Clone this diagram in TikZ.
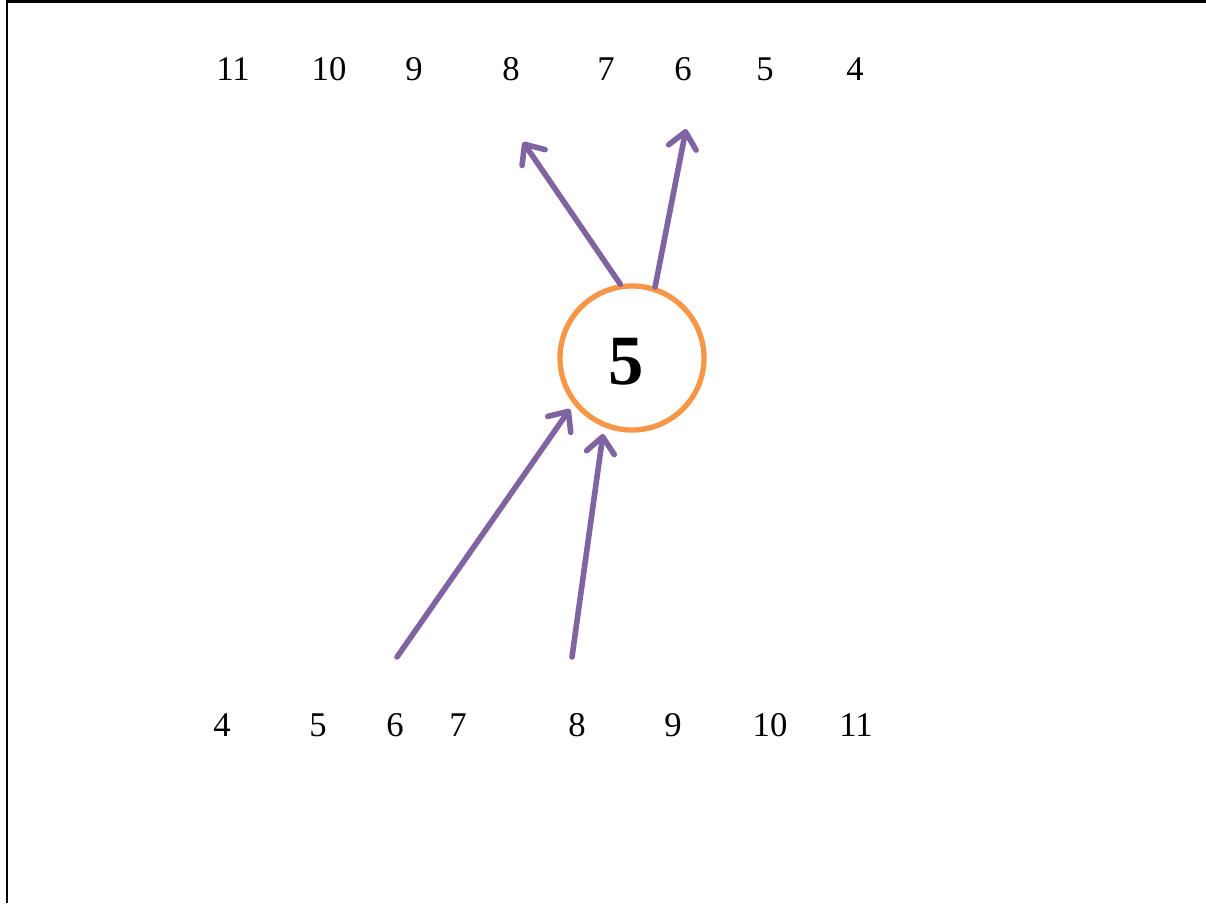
\documentclass[tikz,border=0pt]{standalone}
\usepackage{fontspec}
\setmainfont{Liberation Serif}
\usetikzlibrary{arrows.meta}
\definecolor{acorange}{HTML}{F79646}
\definecolor{acpurple}{HTML}{8064A2}
\tikzset{
  num/.style={font=\fontsize{26}{30}\selectfont, inner sep=0pt, anchor=center},
  conn/.style={draw=acpurple, line width=4.2pt, line cap=round,
    -{Straight Barb[length=12pt,width=21pt,line cap=round,line join=round]}},
  hub/.style={circle, draw=acorange, line width=4pt, minimum size=108pt, inner sep=0pt},
  frameline/.style={line width=2.2pt, black}
}
\begin{document}
\begin{tikzpicture}[x=0.75pt,y=-0.75pt]
\useasboundingbox (0,0) rectangle (1206,903);
\draw[frameline] (7,903) -- (7,1.5) -- (1206,1.5);
% top row
\node[num] (t11) at (233,69) {11};
\node[num] (t10) at (329,69) {10};
\node[num] (t9) at (414,69) {9};
\node[num] (t8) at (511,69) {8};
\node[num] (t7) at (606,69) {7};
\node[num] (t6) at (683,69) {6};
\node[num] (t5) at (765,69) {5};
\node[num] (t4) at (855,69) {4};
% bottom row
\node[num] (b4) at (222,725) {4};
\node[num] (b5) at (318,725) {5};
\node[num] (b6) at (395,725) {6};
\node[num] (b7) at (458,725) {7};
\node[num] (b8) at (577,725) {8};
\node[num] (b9) at (673,725) {9};
\node[num] (b10) at (770,725) {10};
\node[num] (b11) at (856,725) {11};
% hub
\node[hub] (c) at (632,358) {};
\node[font=\fontsize{53}{60}\selectfont\bfseries, inner sep=0pt] (cl) at (626,362) {5};
% free ends
\coordinate (up1) at (523,142);
\coordinate (up2) at (686,129);
\coordinate (lo1) at (397,657);
\coordinate (lo2) at (572,657);
\coordinate (tip1) at (570,409);
\coordinate (tip2) at (603,434);
\draw[conn] (c.99) -- (up1);
\draw[conn] (c.72) -- (up2);
\draw[conn] (lo1) -- (tip1);
\draw[conn] (lo2) -- (tip2);
\end{tikzpicture}
\end{document}
